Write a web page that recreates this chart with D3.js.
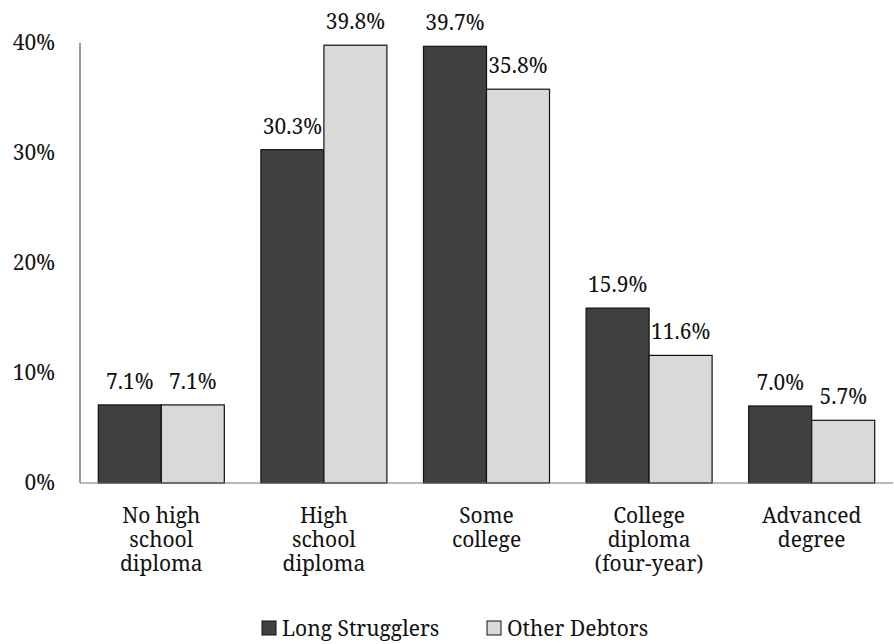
<!DOCTYPE html>
<html><head><meta charset="utf-8">
<script src="https://cdn.jsdelivr.net/npm/d3@7"></script>
<style>body{margin:0;background:#fff}svg{display:block}</style>
</head><body><svg id="c" width="894" height="644"></svg>
<script>
const categories = [["No high","school","diploma"],["High","school","diploma"],["Some","college"],["College","diploma","(four-year)"],["Advanced","degree"]];
const seriesNames = ["Long Strugglers","Other Debtors"];
const longStrugglers = [7.1,30.3,39.7,15.9,7.0];
const otherDebtors = [7.1,39.8,35.8,11.6,5.7];
const yTicks = [0,10,20,30,40];
const colors = ["#404040","#d9d9d9"];

(function(){
const FF="Noto Serif, Liberation Serif, serif";
const svg = d3.select("#c");
const pl=80,pr=893,pt=43,pb=483;
const x = d3.scaleBand().domain(d3.range(categories.length)).range([pl,pr]).paddingInner(0.225).paddingOuter(0.1125);
const x1 = d3.scaleBand().domain([0,1]).range([0,x.bandwidth()]);
const y = d3.scaleLinear().domain([0,40]).range([pb,pt]);
const series=[longStrugglers,otherDebtors];
const fs=21;
const T=sel=>sel.attr("font-family",FF).attr("font-size",fs).attr("fill","#111");

svg.selectAll(".yt").data(yTicks).join("text").call(T)
  .attr("x",55).attr("y",d=>y(d)).attr("dy","0.35em").attr("text-anchor","end")
  .text(d=>d+"%");

series.forEach((vals,si)=>{
  const g=svg.append("g");
  g.selectAll("rect").data(vals).join("rect")
    .attr("x",(d,i)=>x(i)+x1(si)).attr("width",x1.bandwidth())
    .attr("y",d=>y(d)).attr("height",d=>pb-y(d))
    .attr("fill",colors[si]).attr("stroke","#111").attr("stroke-width",1.2);
  g.selectAll("text").data(vals).join("text").call(T)
    .attr("x",(d,i)=>x(i)+x1(si)+x1.bandwidth()/2).attr("y",d=>y(d)-16)
    .attr("text-anchor","middle").text(d=>d.toFixed(1)+"%");
});

svg.append("line").attr("x1",pl).attr("x2",pl).attr("y1",pt).attr("y2",pb).attr("stroke","#555").attr("stroke-width",1.2);
svg.append("line").attr("x1",pl).attr("x2",pr).attr("y1",pb).attr("y2",pb).attr("stroke","#777").attr("stroke-width",1.2);

categories.forEach((lines,i)=>{
  lines.forEach((l,j)=>svg.append("text").call(T).attr("text-anchor","middle")
    .attr("x",x(i)+x.bandwidth()/2).attr("y",523+j*24).text(l));
});

const lg=svg.append("g");
const items=[{n:seriesNames[0],c:colors[0],x:262},{n:seriesNames[1],c:colors[1],x:487}];
items.forEach(it=>{
  lg.append("rect").attr("x",it.x).attr("y",621).attr("width",14).attr("height",14).attr("fill",it.c).attr("stroke","#111").attr("stroke-width",1);
  lg.append("text").call(T).attr("x",it.x+20).attr("y",636).text(it.n);
});
})();
</script></body></html>
